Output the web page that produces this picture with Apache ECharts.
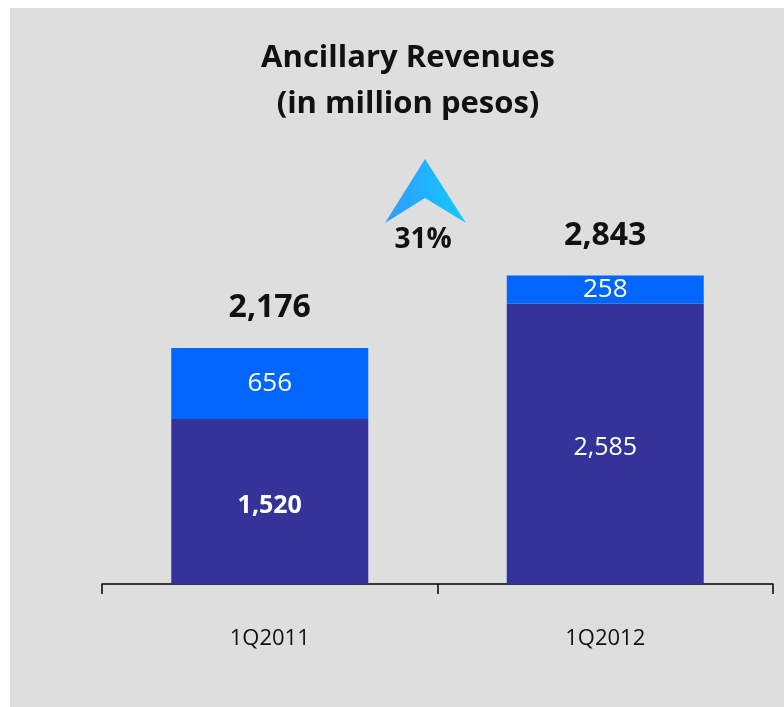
<!DOCTYPE html>
<html>
<head>
<meta charset="utf-8">
<script src="https://cdn.jsdelivr.net/npm/echarts@6/dist/echarts.min.js"></script>
<style>
  html, body { margin: 0; padding: 0; background: #ffffff; }
  #chart { width: 784px; height: 707px; }
</style>
</head>
<body>
<div id="chart"></div>
<script>
const quarters = ['1Q2011', '1Q2012']
const baseRevenue = [1520, 2585]
const otherRevenue = [656, 258]
const totals = [2176, 2843]
const growthLabel = '31%'

const fontFamily = '"Open Sans", "Noto Sans", sans-serif'
const chart = echarts.init(document.getElementById('chart'))

const fmt = (v) => v.toLocaleString('en-US')

chart.setOption({
  backgroundColor: '#ffffff',
  animation: false,
  textStyle: { fontFamily },
  title: {
    text: 'Ancillary Revenues\n(in million pesos)',
    left: 403,
    textAlign: 'center',
    top: 30,
    textStyle: {
      fontFamily,
      fontSize: 31,
      fontWeight: 'bold',
      color: '#111111',
      lineHeight: 46
    }
  },
  grid: { left: 102, right: 11, top: 150, bottom: 123 },
  xAxis: {
    type: 'category',
    data: quarters,
    axisLine: { lineStyle: { color: '#000000', width: 1.5 } },
    axisTick: { show: true, length: 10, lineStyle: { color: '#000000', width: 1.5 } },
    axisLabel: { color: '#111111', fontSize: 22, margin: 44, fontFamily }
  },
  yAxis: {
    type: 'value',
    min: 0,
    max: 4000,
    show: false,
    splitLine: { show: false }
  },
  series: [
    {
      name: 'base',
      type: 'bar',
      stack: 'rev',
      data: baseRevenue,
      barWidth: 197,
      itemStyle: { color: '#333399' },
      label: {
        show: true,
        position: 'inside',
        offset: [0, 4],
        color: '#ffffff',
        fontSize: 25,
        fontFamily,
        // first quarter's figure is set in bold in the original slide
        formatter: (p) => p.dataIndex === 0 ? '{b|' + fmt(p.value) + '}' : fmt(p.value),
        rich: {
          b: { fontSize: 25, fontWeight: 'bold', color: '#ffffff', fontFamily }
        }
      }
    },
    {
      name: 'other',
      type: 'bar',
      stack: 'rev',
      data: otherRevenue,
      barWidth: 197,
      itemStyle: { color: '#0066ff' },
      label: {
        show: true,
        position: 'inside',
        color: '#ffffff',
        fontSize: 26,
        fontFamily,
        formatter: (p) => fmt(p.value)
      }
    },
    {
      name: 'total',
      type: 'bar',
      stack: 'rev',
      data: totals.map(() => 0),
      barWidth: 197,
      itemStyle: { color: 'transparent' },
      label: {
        show: true,
        position: 'top',
        distance: 24,
        color: '#111111',
        fontSize: 32,
        fontWeight: 'bold',
        fontFamily,
        formatter: (p) => fmt(totals[p.dataIndex])
      }
    }
  ],
  graphic: [
    {
      type: 'rect',
      z: -10,
      shape: { x: 10, y: 8, width: 774, height: 699 },
      style: { fill: '#dedede' }
    },
    {
      type: 'polygon',
      shape: { points: [[425, 159], [466, 223], [425, 198], [385, 223]] },
      style: {
        fill: new echarts.graphic.LinearGradient(0, 0, 1, 0, [
          { offset: 0, color: '#3399ff' },
          { offset: 1, color: '#11ccff' }
        ])
      }
    },
    {
      type: 'text',
      x: 423,
      y: 240,
      style: {
        text: growthLabel,
        fontFamily,
        fontSize: 28,
        fontWeight: 'bold',
        fill: '#111111',
        align: 'center',
        verticalAlign: 'middle'
      }
    }
  ]
})
</script>
</body>
</html>
